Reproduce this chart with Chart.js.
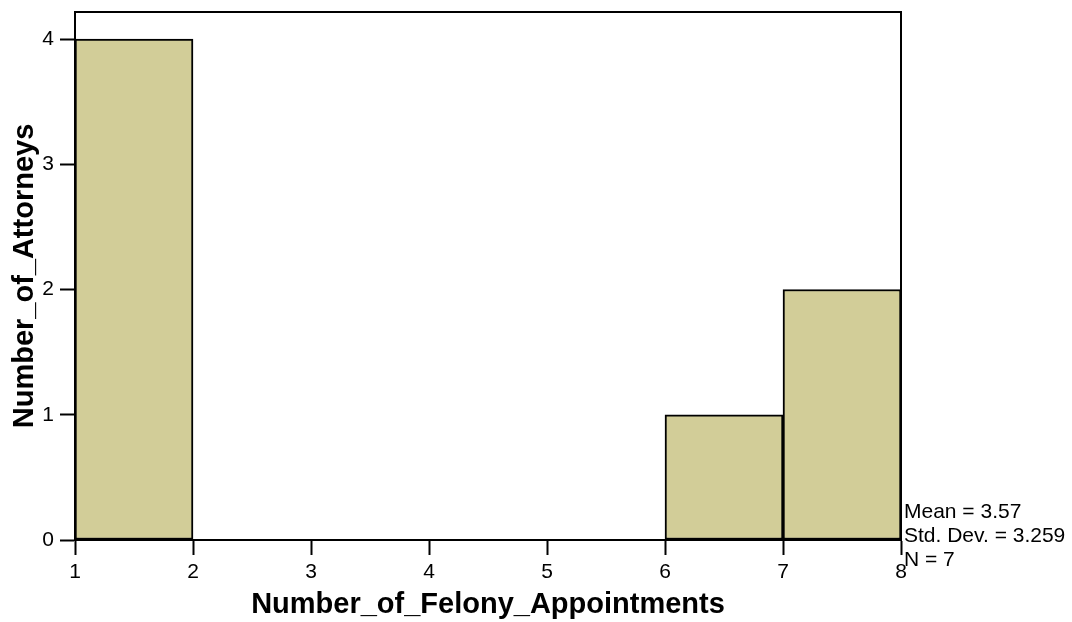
<!DOCTYPE html>
<html>
<head>
<meta charset="utf-8">
<script src="https://cdn.jsdelivr.net/npm/chart.js@4/dist/chart.umd.min.js"></script>
<style>
  html, body { margin: 0; padding: 0; background: #fff; }
  .chart-container { position: relative; width: 1072px; height: 622px; }
</style>
</head>
<body>
<div class="chart-container"><canvas id="histChart"></canvas></div>
<script>
// histogram bins (lower edges) and counts
const binStarts = [1, 2, 3, 4, 5, 6, 7];
const counts = [4, 0, 0, 0, 0, 1, 2];
const xTicks = [1, 2, 3, 4, 5, 6, 7, 8];
const yTicks = [0, 1, 2, 3, 4];
const statsLines = ['Mean = 3.57', 'Std. Dev. = 3.259', 'N = 7'];

const frameAndStats = {
    id: 'frameAndStats',
    afterDraw(chart) {
        const { ctx, chartArea } = chart;
        ctx.save();
        ctx.strokeStyle = '#000';
        ctx.lineWidth = 2;
        ctx.strokeRect(chartArea.left, chartArea.top, chartArea.right - chartArea.left, chartArea.bottom - chartArea.top);
        ctx.fillStyle = '#000';
        ctx.font = '21px Arial, "Liberation Sans", sans-serif';
        ctx.textAlign = 'left';
        ctx.textBaseline = 'alphabetic';
        statsLines.forEach((line, i) => {
            ctx.fillText(line, chartArea.right + 3, 518 + i * 24);
        });
        ctx.restore();
    }
};

document.addEventListener('DOMContentLoaded', () => {
    const ctx = document.getElementById('histChart').getContext('2d');
    new Chart(ctx, {
        type: 'bar',
        data: {
            datasets: [{
                data: binStarts.map((s, i) => ({ x: s + 0.5, y: counts[i] })),
                backgroundColor: '#D2CD98',
                borderColor: '#000',
                borderWidth: 2,
                borderSkipped: false,
                barPercentage: 1,
                categoryPercentage: 1
            }]
        },
        options: {
            responsive: true,
            maintainAspectRatio: false,
            animation: false,
            layout: { padding: { left: 0, right: 171, top: 12, bottom: 0 } },
            plugins: {
                legend: { display: false },
                tooltip: { enabled: false }
            },
            scales: {
                x: {
                    type: 'linear',
                    offset: false,
                    min: 1,
                    max: 8,
                    afterBuildTicks: (scale) => { scale.ticks = xTicks.map(v => ({ value: v })); },
                    afterFit: (scale) => { scale.height = 82; scale.paddingLeft = 0; scale.paddingRight = 0; },
                    grid: { drawOnChartArea: false, offset: false, tickLength: 15, tickColor: '#000', tickWidth: 2 },
                    border: { color: '#000', width: 2 },
                    ticks: { color: '#000', padding: 5, maxRotation: 0, autoSkip: false, font: { family: 'Arial', size: 21 } },
                    title: {
                        display: true,
                        text: 'Number_of_Felony_Appointments',
                        color: '#000',
                        font: { family: 'Arial', size: 29, weight: 'bold' },
                        padding: { top: 0, bottom: 0 }
                    }
                },
                y: {
                    min: 0,
                    max: 4.216,
                    afterBuildTicks: (scale) => { scale.ticks = yTicks.map(v => ({ value: v })); },
                    afterFit: (scale) => { scale.width = 75; scale.paddingTop = 0; scale.paddingBottom = 0; },
                    grid: { drawOnChartArea: false, tickLength: 15, tickColor: '#000', tickWidth: 2 },
                    border: { color: '#000', width: 2 },
                    ticks: { color: '#000', padding: 6, font: { family: 'Arial', size: 21 } },
                    title: {
                        display: true,
                        text: 'Number_of_Attorneys',
                        color: '#000',
                        font: { family: 'Arial', size: 29, weight: 'bold' },
                        padding: { top: 8, bottom: 0 }
                    }
                }
            }
        },
        plugins: [frameAndStats]
    });
});
</script>
</body>
</html>
